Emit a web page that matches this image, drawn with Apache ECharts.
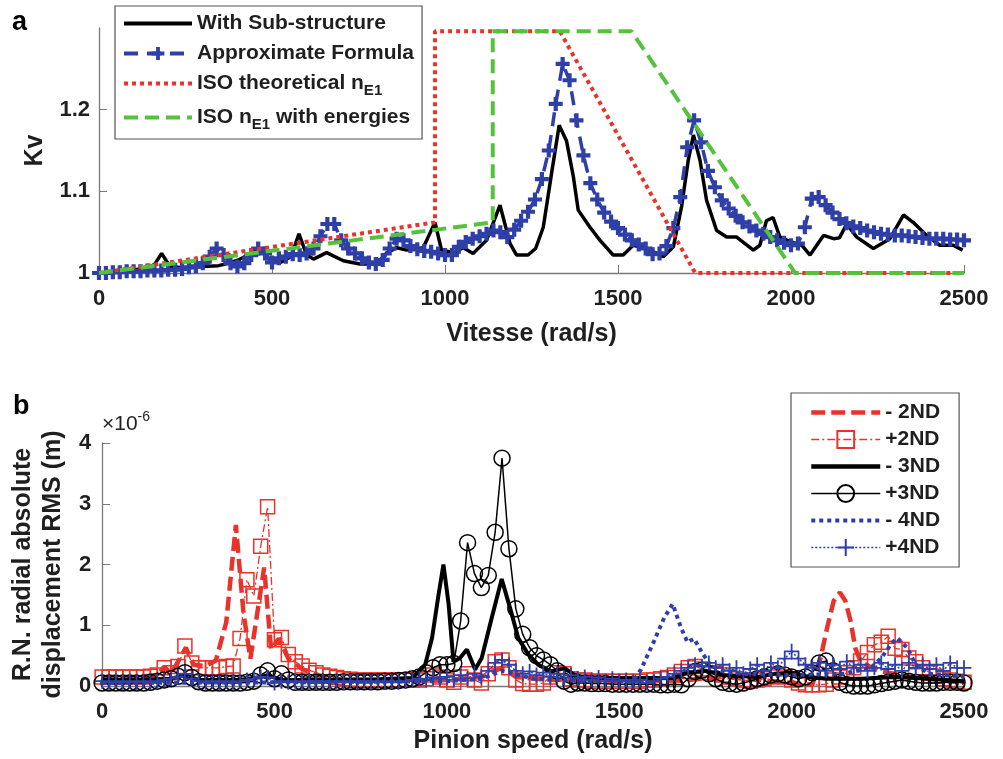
<!DOCTYPE html>
<html>
<head>
<meta charset="utf-8">
<script src="https://cdn.jsdelivr.net/npm/echarts@6/dist/echarts.min.js"></script>
<style>
  html, body { margin: 0; padding: 0; background: #fff; }
  #chart { width: 1003px; height: 759px; }
</style>
</head>
<body>
<div id="chart"></div>
<script>
// ---- panel a : Kv vs speed ----
const speedStep = 20 // sampling of the marker curves, rad/s

// With Sub-structure (speed, Kv)
const subStructure = [
  [0, 1.000], [60, 1.002], [120, 1.005], [160, 1.010], [181, 1.024], [205, 1.008], [250, 1.006],
  [300, 1.008], [345, 1.009], [375, 1.012], [403, 1.016], [430, 1.022], [460, 1.030], [490, 1.018],
  [520, 1.012], [555, 1.020], [578, 1.048], [600, 1.022], [620, 1.017], [658, 1.025], [706, 1.015],
  [754, 1.011], [803, 1.011], [832, 1.025], [861, 1.031], [889, 1.028], [937, 1.031], [971, 1.062],
  [990, 1.028], [1024, 1.025], [1053, 1.031], [1081, 1.024], [1120, 1.040], [1159, 1.083],
  [1188, 1.036], [1207, 1.022], [1240, 1.022], [1262, 1.030], [1284, 1.056], [1308, 1.122],
  [1330, 1.181], [1351, 1.162], [1371, 1.118], [1385, 1.077], [1419, 1.056], [1448, 1.040],
  [1486, 1.022], [1515, 1.022], [1544, 1.034], [1583, 1.030], [1631, 1.020], [1660, 1.032],
  [1684, 1.082], [1703, 1.138], [1718, 1.169], [1737, 1.138], [1756, 1.089], [1785, 1.052],
  [1814, 1.044], [1843, 1.044], [1891, 1.028], [1910, 1.034], [1929, 1.064], [1948, 1.068],
  [1968, 1.044], [2000, 1.038], [2031, 1.034], [2055, 1.022], [2094, 1.046], [2123, 1.042],
  [2140, 1.043], [2161, 1.060], [2190, 1.044], [2238, 1.030], [2286, 1.042], [2325, 1.071],
  [2353, 1.062], [2392, 1.046], [2430, 1.034], [2469, 1.034], [2496, 1.028]
]

// Approximate Formula, one value every speedStep from 0 to 2500
const approxFormula = [
  1.000, 1.000, 1.001, 1.001, 1.002, 1.002, 1.002, 1.003, 1.003, 1.003,
  1.004, 1.004, 1.005, 1.007, 1.008, 1.012, 1.020, 1.030, 1.022, 1.012,
  1.008, 1.012, 1.022, 1.030, 1.024, 1.013, 1.018, 1.020, 1.023, 1.022,
  1.024, 1.030, 1.045, 1.060, 1.060, 1.040, 1.030, 1.024, 1.018, 1.013,
  1.011, 1.016, 1.030, 1.042, 1.040, 1.033, 1.029, 1.027, 1.026, 1.024,
  1.022, 1.022, 1.032, 1.038, 1.042, 1.045, 1.048, 1.052, 1.050, 1.044,
  1.053, 1.064, 1.075, 1.090, 1.115, 1.150, 1.207, 1.256, 1.236, 1.187,
  1.144, 1.110, 1.090, 1.074, 1.063, 1.055, 1.047, 1.040, 1.035, 1.030,
  1.023, 1.024, 1.033, 1.055, 1.093, 1.154, 1.187, 1.160, 1.125, 1.105,
  1.089, 1.079, 1.070, 1.062, 1.057, 1.052, 1.048, 1.044, 1.040, 1.037,
  1.034, 1.036, 1.056, 1.091, 1.093, 1.083, 1.074, 1.066, 1.061, 1.057,
  1.055, 1.052, 1.050, 1.048, 1.047, 1.046, 1.046, 1.045, 1.044, 1.043,
  1.042, 1.042, 1.042, 1.041, 1.041, 1.040
]

const isoTheoretical = [[0, 1.0], [971, 1.062], [971, 1.296], [1332, 1.296], [1723, 1.0], [2500, 1.0]]
const isoEnergies = [[0, 1.0], [1138, 1.062], [1138, 1.296], [1539, 1.296], [2012, 1.0], [2500, 1.0]]

const kvTicks = [1, 1.1, 1.2]
const speedTicks = [0, 500, 1000, 1500, 2000, 2500]

// ---- panel b : RMS displacement (x1e-6 m) vs pinion speed ----
const minus2ND = [
  [0, 0.15], [100, 0.15], [160, 0.18], [180, 0.32], [200, 0.20], [243, 0.63], [265, 0.35],
  [300, 0.33], [330, 0.42], [360, 1.05], [388, 2.65], [410, 1.20], [430, 0.45], [450, 1.20],
  [470, 1.95], [490, 0.60], [513, 0.78], [540, 0.45], [580, 0.28], [640, 0.15], [700, 0.10],
  [900, 0.08], [1000, 0.10], [1100, 0.15], [1160, 0.30], [1200, 0.15], [1300, 0.10], [1500, 0.08],
  [1700, 0.10], [1800, 0.15], [1900, 0.10], [2000, 0.05], [2060, 0.02], [2084, 0.46], [2103, 0.96],
  [2122, 1.40], [2140, 1.54], [2156, 1.40], [2171, 1.07], [2185, 0.62], [2200, 0.40], [2250, 0.25],
  [2350, 0.15], [2500, 0.05]
]
const plus2ND = [
  0.15, 0.15, 0.15, 0.15, 0.15, 0.15, 0.15, 0.16, 0.18, 0.30,
  0.22, 0.32, 0.66, 0.38, 0.30, 0.30, 0.30, 0.30, 0.32, 0.33,
  0.78, 1.75, 1.48, 2.30, 2.95, 0.76, 0.80, 0.52, 0.40, 0.33,
  0.26, 0.22, 0.18, 0.16, 0.14, 0.12, 0.11, 0.10, 0.10, 0.10,
  0.10, 0.10, 0.10, 0.10, 0.10, 0.10, 0.10, 0.12, 0.18, 0.15,
  0.10, 0.06, 0.15, 0.20, 0.10, 0.05, 0.20, 0.40, 0.43, 0.30,
  0.10, 0.04, 0.03, 0.03, 0.05, 0.15, 0.22, 0.20, 0.12, 0.10,
  0.10, 0.08, 0.08, 0.08, 0.08, 0.08, 0.08, 0.08, 0.08, 0.10,
  0.10, 0.12, 0.14, 0.18, 0.24, 0.30, 0.32, 0.28, 0.22, 0.20,
  0.18, 0.15, 0.12, 0.10, 0.08, 0.10, 0.12, 0.15, 0.18, 0.15,
  0.10, 0.05, 0.02, 0.02, 0.02, 0.03, 0.10, 0.15, 0.22, 0.30,
  0.41, 0.55, 0.68, 0.72, 0.82, 0.62, 0.60, 0.46, 0.40, 0.30,
  0.22, 0.16, 0.12, 0.10, 0.08, 0.06
]
const minus3ND = [
  [0, 0.10], [100, 0.10], [200, 0.12], [240, 0.18], [280, 0.10], [400, 0.10], [460, 0.15],
  [480, 0.18], [520, 0.10], [600, 0.10], [800, 0.11], [900, 0.13], [937, 0.35], [957, 0.79],
  [976, 1.51], [990, 2.00], [1005, 1.35], [1019, 0.40], [1038, 0.46], [1058, 0.60], [1082, 0.27],
  [1101, 0.46], [1130, 1.12], [1159, 1.76], [1183, 1.29], [1207, 0.79], [1236, 0.52], [1265, 0.35],
  [1303, 0.24], [1342, 0.29], [1371, 0.18], [1410, 0.13], [1550, 0.12], [1650, 0.13], [1700, 0.22],
  [1750, 0.25], [1800, 0.18], [1900, 0.15], [1950, 0.20], [2000, 0.22], [2050, 0.15], [2100, 0.12],
  [2200, 0.12], [2300, 0.15], [2400, 0.12], [2500, 0.08]
]
const plus3ND = [
  0.05, 0.05, 0.05, 0.05, 0.05, 0.05, 0.05, 0.06, 0.08, 0.10,
  0.12, 0.16, 0.22, 0.14, 0.07, 0.05, 0.05, 0.05, 0.05, 0.05,
  0.05, 0.06, 0.08, 0.18, 0.25, 0.12, 0.20, 0.10, 0.06, 0.06,
  0.06, 0.06, 0.06, 0.06, 0.06, 0.07, 0.07, 0.07, 0.07, 0.07,
  0.07, 0.08, 0.08, 0.09, 0.10, 0.12, 0.15, 0.22, 0.30, 0.35,
  0.35, 0.37, 1.07, 2.36, 1.85, 1.62, 1.82, 2.53, 3.75, 2.26,
  1.27, 0.85, 0.63, 0.50, 0.43, 0.35, 0.25, 0.08, 0.03, 0.05,
  0.05, 0.04, 0.04, 0.04, 0.03, 0.03, 0.03, 0.03, 0.03, 0.03,
  0.03, 0.02, 0.02, 0.03, 0.02, 0.12, 0.24, 0.26, 0.20, 0.12,
  0.06, 0.04, 0.03, 0.05, 0.08, 0.12, 0.15, 0.18, 0.20, 0.18,
  0.15, 0.12, 0.15, 0.22, 0.38, 0.41, 0.25, 0.06, 0.02, 0.00,
  0.00, 0.00, 0.02, 0.04, 0.06, 0.08, 0.10, 0.08, 0.06, 0.05,
  0.05, 0.05, 0.06, 0.06, 0.06, 0.05
]
const minus4ND = [
  [0, 0.05], [500, 0.06], [1000, 0.08], [1100, 0.12], [1160, 0.25], [1250, 0.12], [1400, 0.08],
  [1540, 0.08], [1563, 0.27], [1601, 0.74], [1630, 1.12], [1655, 1.35], [1679, 0.96], [1698, 0.72],
  [1717, 0.78], [1740, 0.55], [1760, 0.38], [1790, 0.25], [1850, 0.20], [2000, 0.18], [2150, 0.20],
  [2230, 0.30], [2260, 0.46], [2290, 0.70], [2306, 0.79], [2335, 0.63], [2360, 0.35], [2400, 0.20],
  [2500, 0.15]
]
const plus4ND = [
  0.08, 0.06, 0.08, 0.06, 0.08, 0.06, 0.08, 0.06, 0.08, 0.10,
  0.12, 0.15, 0.20, 0.12, 0.08, 0.06, 0.08, 0.06, 0.08, 0.06,
  0.08, 0.10, 0.12, 0.15, 0.14, 0.05, 0.08, 0.06, 0.08, 0.06,
  0.08, 0.06, 0.08, 0.06, 0.08, 0.06, 0.08, 0.06, 0.08, 0.06,
  0.08, 0.06, 0.08, 0.06, 0.08, 0.10, 0.12, 0.10, 0.14, 0.12,
  0.15, 0.10, 0.18, 0.12, 0.20, 0.15, 0.25, 0.38, 0.43, 0.35,
  0.25, 0.20, 0.24, 0.18, 0.22, 0.15, 0.20, 0.14, 0.18, 0.12,
  0.15, 0.10, 0.14, 0.08, 0.12, 0.08, 0.10, 0.06, 0.10, 0.05,
  0.08, 0.12, 0.15, 0.20, 0.25, 0.30, 0.35, 0.32, 0.38, 0.30,
  0.35, 0.25, 0.30, 0.20, 0.28, 0.35, 0.25, 0.38, 0.30, 0.45,
  0.57, 0.45, 0.35, 0.30, 0.38, 0.25, 0.35, 0.28, 0.40, 0.30,
  0.35, 0.25, 0.30, 0.38, 0.28, 0.35, 0.25, 0.38, 0.30, 0.35,
  0.28, 0.35, 0.25, 0.38, 0.30, 0.30
]
const rmsTicks = [0, 1, 2, 3, 4]

// couleurs / styles
const FONT = 'Liberation Sans'
const TXT = '#1f1f1f'
const AXIS = '#7a7a7a'
const BLUE = '#2f3fa8'
const RED = '#e8332b'
const GREEN = '#55c23c'
const plusThick = 'path://M3.5,0H6.5V3.5H10V6.5H6.5V10H3.5V6.5H0V3.5H3.5Z'
const plusThin = 'path://M4.4,0H5.6V4.4H10V5.6H5.6V10H4.4V5.6H0V4.4H4.4Z'

const onGrid = vals => vals.map((v, i) => [i * speedStep, v])

function xAxisFor(gridIndex, name, nameGap) {
  return {
    type: 'value', gridIndex, min: 0, max: 2500, interval: 500,
    name, nameLocation: 'middle', nameGap,
    nameTextStyle: { fontFamily: FONT, fontWeight: 'bold', fontSize: 25, color: TXT, lineHeight: 26 },
    axisLine: { onZero: false, lineStyle: { color: AXIS, width: 1.3 } },
    axisTick: { inside: true, length: 8, lineStyle: { color: AXIS }, customValues: speedTicks },
    axisLabel: { margin: 15, fontFamily: FONT, fontWeight: 'bold', fontSize: 22, color: TXT,
      customValues: speedTicks, formatter: v => String(v) },
    splitLine: { show: false }
  }
}

// legend entry of a line without markers: keep only the line sample
const lineOnly = (name, width) => ({ name, itemStyle: { opacity: 0 }, lineStyle: { width } })
const withMark = (name, width) => ({ name, lineStyle: { width } })

const chartDom = document.getElementById('chart')
const chart = echarts.init(chartDom)

const legendText = { fontFamily: FONT, fontWeight: 'bold', fontSize: 21, color: TXT,
  rich: { sub: { fontFamily: FONT, fontWeight: 'bold', fontSize: 15, color: TXT, padding: [14, 0, 0, 0] } } }

chart.setOption({
  animation: false,
  backgroundColor: '#fff',
  grid: [
    { left: 99, right: 39, top: 28, height: 245 },
    { left: 99, right: 39, top: 443, height: 243 }
  ],
  xAxis: [
    xAxisFor(0, 'Vitesse (rad/s)', 48),
    xAxisFor(1, 'Pinion speed (rad/s)', 42)
  ],
  yAxis: [
    {
      type: 'value', gridIndex: 0, min: 1, max: 1.3, interval: 0.1,
      name: 'Kv', nameLocation: 'middle', nameGap: 50,
      nameTextStyle: { fontFamily: FONT, fontWeight: 'bold', fontSize: 25, color: TXT, lineHeight: 26 },
      axisLine: { show: true, lineStyle: { color: AXIS, width: 1.3 } },
      axisTick: { show: true, inside: true, length: 8, lineStyle: { color: AXIS }, customValues: kvTicks },
      axisLabel: { margin: 9, fontFamily: FONT, fontWeight: 'bold', fontSize: 22, color: TXT,
        customValues: kvTicks, formatter: v => String(Math.round(v * 10) / 10) },
      splitLine: { show: false }
    },
    {
      type: 'value', gridIndex: 1, min: 0, max: 4, interval: 1,
      name: 'R.N. radial absolute\ndisplacement RMS (m)', nameLocation: 'middle', nameGap: 31,
      nameTextStyle: { fontFamily: FONT, fontWeight: 'bold', fontSize: 25, color: TXT, lineHeight: 30 },
      axisLine: { show: true, lineStyle: { color: AXIS, width: 1.3 } },
      axisTick: { show: true, inside: true, length: 8, lineStyle: { color: AXIS }, customValues: rmsTicks },
      axisLabel: { margin: 11, fontFamily: FONT, fontWeight: 'bold', fontSize: 22, color: TXT, customValues: rmsTicks },
      splitLine: { show: false }
    }
  ],
  legend: [
    {
      left: 115, top: 6, orient: 'vertical',
      padding: [7, 8, 7, 7], itemGap: 9, itemWidth: 68, itemHeight: 16,
      backgroundColor: '#fff', borderColor: '#555', borderWidth: 1.2,
      data: [
        lineOnly('With Sub-structure', 4),
        withMark('Approximate Formula', 4),
        lineOnly('ISO theoretical n_E1', 4),
        lineOnly('ISO n_E1 with energies', 4)
      ],
      formatter: name => name.replace('n_E1', 'n{sub|E1}'),
      textStyle: legendText
    },
    {
      left: 791, top: 393, orient: 'vertical',
      padding: [9, 19, 9, 18], itemGap: 6, itemWidth: 69, itemHeight: 21,
      backgroundColor: '#fff', borderColor: '#555', borderWidth: 1.2,
      data: [
        lineOnly('- 2ND', 4.5), withMark('+2ND', 1.3),
        lineOnly('- 3ND', 4.5), withMark('+3ND', 1.5),
        lineOnly('- 4ND', 4), withMark('+4ND', 1.5)
      ],
      textStyle: { fontFamily: FONT, fontWeight: 'bold', fontSize: 21, color: TXT }
    }
  ],
  graphic: [
    { type: 'text', left: 12, top: 9, style: { text: 'a', fontFamily: FONT, fontWeight: 'bold', fontSize: 27, fill: '#000' } },
    { type: 'text', left: 13, top: 393, style: { text: 'b', fontFamily: FONT, fontWeight: 'bold', fontSize: 27, fill: '#000' } },
    { type: 'text', left: 102, top: 410, style: {
      text: '{b|×10}{s|-6}',
      rich: {
        b: { fontFamily: FONT, fontSize: 21, fill: TXT, color: TXT },
        s: { fontFamily: FONT, fontSize: 14, fill: TXT, color: TXT, padding: [0, 0, 14, 0] }
      }
    } }
  ],
  series: [
    { name: 'With Sub-structure', type: 'line', xAxisIndex: 0, yAxisIndex: 0, data: subStructure,
      symbol: 'none', lineStyle: { color: '#000', width: 3.5 }, itemStyle: { color: '#000' }, z: 2 },
    { name: 'Approximate Formula', type: 'line', xAxisIndex: 0, yAxisIndex: 0, data: onGrid(approxFormula),
      symbol: plusThick, symbolSize: 14, showAllSymbol: true,
      lineStyle: { color: BLUE, width: 3.5, type: [14, 9] }, itemStyle: { color: BLUE }, z: 3 },
    { name: 'ISO theoretical n_E1', type: 'line', xAxisIndex: 0, yAxisIndex: 0, data: isoTheoretical,
      symbol: 'none', lineStyle: { color: RED, width: 4, type: [4, 4] }, itemStyle: { color: RED }, z: 4 },
    { name: 'ISO n_E1 with energies', type: 'line', xAxisIndex: 0, yAxisIndex: 0, data: isoEnergies,
      symbol: 'none', lineStyle: { color: GREEN, width: 4, type: [14, 7] }, itemStyle: { color: GREEN }, z: 5 },

    { name: '- 2ND', type: 'line', xAxisIndex: 1, yAxisIndex: 1, data: minus2ND,
      symbol: 'none', lineStyle: { color: RED, width: 4.5, type: [14, 6] }, itemStyle: { color: RED }, z: 2 },
    { name: '+2ND', type: 'line', xAxisIndex: 1, yAxisIndex: 1, data: onGrid(plus2ND),
      symbol: 'rect', symbolSize: 14, showAllSymbol: true,
      lineStyle: { color: RED, width: 1.3, type: [8, 3, 2, 3] },
      itemStyle: { color: 'rgba(0,0,0,0)', borderColor: RED, borderWidth: 1.5 }, z: 3 },
    { name: '- 3ND', type: 'line', xAxisIndex: 1, yAxisIndex: 1, data: minus3ND,
      symbol: 'none', lineStyle: { color: '#000', width: 4 }, itemStyle: { color: '#000' }, z: 4 },
    { name: '+3ND', type: 'line', xAxisIndex: 1, yAxisIndex: 1, data: onGrid(plus3ND),
      symbol: 'circle', symbolSize: 16, showAllSymbol: true,
      lineStyle: { color: '#000', width: 1.5 },
      itemStyle: { color: 'rgba(0,0,0,0)', borderColor: '#000', borderWidth: 1.5 }, z: 5 },
    { name: '- 4ND', type: 'line', xAxisIndex: 1, yAxisIndex: 1, data: minus4ND,
      symbol: 'none', lineStyle: { color: BLUE, width: 4, type: [4, 4] }, itemStyle: { color: BLUE }, z: 6 },
    { name: '+4ND', type: 'line', xAxisIndex: 1, yAxisIndex: 1, data: onGrid(plus4ND),
      symbol: plusThin, symbolSize: 15, showAllSymbol: true,
      lineStyle: { color: BLUE, width: 1.5, type: [2, 2] }, itemStyle: { color: BLUE }, z: 7 }
  ]
})
</script>
</body>
</html>
